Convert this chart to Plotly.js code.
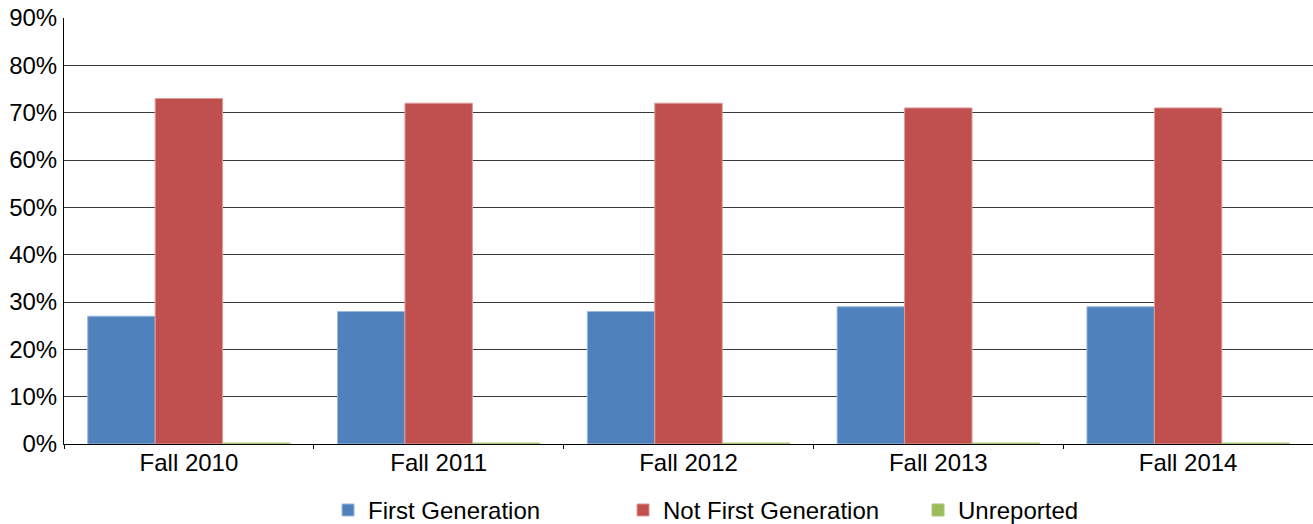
<!DOCTYPE html>
<html><head><meta charset="utf-8">
<script src="https://cdn.plot.ly/plotly-3.0.1.min.js"></script>
<style>html,body{margin:0;padding:0;background:#fff}#chart{width:1313px;height:524px}</style>
</head><body><div id="chart"></div>
<script>
const categories = ["Fall 2010", "Fall 2011", "Fall 2012", "Fall 2013", "Fall 2014"];
const firstGen = [27, 28, 28, 29, 29];
const notFirstGen = [73, 72, 72, 71, 71];
const unreported = [0, 0, 0, 0, 0];
const yTicks = [0, 10, 20, 30, 40, 50, 60, 70, 80, 90];

// zero-height bars are not drawn by Plotly; give them a hairline so they show as in the reference
const visibleHeight = v => Math.max(v, 0.2);

const font = {family: "Liberation Sans, Arial, sans-serif", size: 24, color: "#000"};
const traces = [
  {name: "First Generation", y: firstGen, color: "#4F81BD", line: "#9DB9DE"},
  {name: "Not First Generation", y: notFirstGen, color: "#C0504D", line: "#E09A98"},
  {name: "Unreported", y: unreported, color: "#9BBB59", line: "#A9C77A"}
].map(s => ({
  type: "bar", x: categories, y: s.y.map(visibleHeight), name: s.name,
  customdata: s.y,
  marker: {color: s.color, line: {color: s.line, width: 1}},
  hoverinfo: "skip"
}));

Plotly.newPlot("chart", traces, {
  width: 1313, height: 524,
  margin: {l: 64, r: 0, t: 18, b: 80, autoexpand: false},
  paper_bgcolor: "#fff", plot_bgcolor: "#fff",
  font: font,
  barmode: "group", bargap: 0.19, bargroupgap: 0,
  showlegend: true,
  legend: {orientation: "h", x: 0.2114, xanchor: "left", y: -0.103, yanchor: "top",
           entrywidth: 250, entrywidthmode: "pixels", font: font, traceorder: "normal"},
  xaxis: {type: "category", showline: true, linecolor: "#000", linewidth: 1,
          tickson: "boundaries", ticks: "outside", ticklen: 4, tickcolor: "#000",
          layer: "below traces", ticklabelstandoff: -3,
          showgrid: false, zeroline: false, tickfont: font, automargin: false},
  yaxis: {range: [0, 90], tickvals: yTicks, ticktext: yTicks.map(v => v + "%"),
          showline: true, linecolor: "#000", linewidth: 1,
          showgrid: true, gridcolor: "#3a3a3a", gridwidth: 1, automargin: false,
          zeroline: false, ticks: "", ticklabelstandoff: 1, tickfont: font, fixedrange: true}
}, {staticPlot: true});
</script></body></html>
